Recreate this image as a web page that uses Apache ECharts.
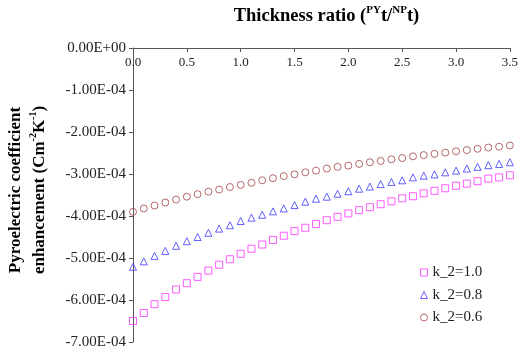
<!DOCTYPE html>
<html><head><meta charset="utf-8">
<script src="https://cdn.jsdelivr.net/npm/echarts@6/dist/echarts.min.js"></script>
<style>html,body{margin:0;padding:0;background:#fff}#c{width:521px;height:354px}</style>
</head><body><div id="c"></div>
<script>
const xValues = [0.0,0.1,0.2,0.3,0.4,0.5,0.6,0.7,0.8,0.9,1.0,1.1,1.2,1.3,1.4,1.5,1.6,1.7,1.8,1.9,2.0,2.1,2.2,2.3,2.4,2.5,2.6,2.7,2.8,2.9,3.0,3.1,3.2,3.3,3.4,3.5];
const k10 = [-6.50e-4,-6.31e-4,-6.10e-4,-5.93e-4,-5.75e-4,-5.60e-4,-5.45e-4,-5.30e-4,-5.16e-4,-5.03e-4,-4.90e-4,-4.78e-4,
  -4.68e-4,-4.57e-4,-4.47e-4,-4.36e-4,-4.28e-4,-4.19e-4,-4.10e-4,-4.02e-4,-3.94e-4,-3.86e-4,-3.79e-4,-3.72e-4,
  -3.65e-4,-3.58e-4,-3.53e-4,-3.46e-4,-3.40e-4,-3.34e-4,-3.28e-4,-3.23e-4,-3.17e-4,-3.11e-4,-3.08e-4,-3.03e-4];
const k08 = [-5.21e-4,-5.08e-4,-4.95e-4,-4.83e-4,-4.71e-4,-4.60e-4,-4.50e-4,-4.40e-4,-4.30e-4,-4.22e-4,-4.12e-4,-4.04e-4,
  -3.97e-4,-3.89e-4,-3.82e-4,-3.74e-4,-3.66e-4,-3.59e-4,-3.54e-4,-3.47e-4,-3.41e-4,-3.35e-4,-3.30e-4,-3.24e-4,
  -3.19e-4,-3.15e-4,-3.08e-4,-3.04e-4,-3.01e-4,-2.96e-4,-2.92e-4,-2.87e-4,-2.83e-4,-2.79e-4,-2.76e-4,-2.72e-4];
const k06 = [-3.90e-4,-3.82e-4,-3.75e-4,-3.68e-4,-3.61e-4,-3.54e-4,-3.48e-4,-3.42e-4,-3.37e-4,-3.31e-4,-3.26e-4,-3.21e-4,
  -3.15e-4,-3.10e-4,-3.05e-4,-3.01e-4,-2.96e-4,-2.92e-4,-2.87e-4,-2.83e-4,-2.80e-4,-2.76e-4,-2.72e-4,-2.69e-4,
  -2.65e-4,-2.62e-4,-2.58e-4,-2.55e-4,-2.52e-4,-2.49e-4,-2.46e-4,-2.43e-4,-2.40e-4,-2.37e-4,-2.35e-4,-2.32e-4];
const seriesNames = ['k_2=1.0','k_2=0.8','k_2=0.6'];
const seriesColors = ['#ff33ff','#3a3aff','#a04444'];

function pairs(ys){ return xValues.map((x,i)=>[x, ys[i]]); }
function sci(v){
  if (Math.abs(v) < 1e-12) return '0.00E+00';
  const s = v.toExponential(2);
  const parts = s.split('e');
  const sign = parts[1][0] === '-' ? '-' : '+';
  let d = parts[1].replace(/[+-]/,'');
  if (d.length < 2) d = '0' + d;
  return parts[0] + 'E' + sign + d;
}
const FONT = '"Liberation Serif", "Times New Roman", serif';
const chart = echarts.init(document.getElementById('c'), null, {renderer:'canvas'});
function mk(i, symbol, ys){
  return {name:seriesNames[i], type:'scatter', symbol:symbol, symbolSize:7, data:pairs(ys),
    itemStyle:{color:'rgba(255,255,255,0)', borderColor:seriesColors[i], borderWidth:1},
    emphasis:{disabled:true}};
}
chart.setOption({
  backgroundColor:'#fff',
  animation:false,
  grid:{left:133, right:8, top:43, bottom:12},
  xAxis:{
    type:'value', position:'top', min:0, max:3.5, interval:0.5,
    axisLine:{lineStyle:{color:'#555', width:1}},
    axisTick:{inside:true, length:4, lineStyle:{color:'#555'}},
    axisLabel:{inside:true, margin:8, color:'#222', fontFamily:FONT, fontSize:13, formatter:v=>v.toFixed(1)},
    splitLine:{show:false},
    name:'{b|Thickness ratio (}{s|PY}{b|t/}{s|NP}{b|t)}',
    nameLocation:'middle', nameGap:21,
    nameTextStyle:{padding:[0,0,0,10], rich:{
      b:{fontFamily:FONT, fontSize:18.5, fontWeight:'bold', color:'#000', lineHeight:22},
      s:{fontFamily:FONT, fontSize:11, fontWeight:'bold', color:'#000', lineHeight:22, verticalAlign:'top'}
    }}
  },
  yAxis:{
    type:'value', min:-7e-4, max:0, interval:1e-4,
    axisLine:{show:true, lineStyle:{color:'#555', width:1}},
    axisTick:{show:true, inside:false, length:4, lineStyle:{color:'#555'}},
    axisLabel:{margin:7, color:'#222', fontFamily:FONT, fontSize:15, formatter:sci},
    splitLine:{show:false}
  },
  legend:{
    orient:'vertical', left:415, top:260, itemGap:7.5, itemWidth:7, itemHeight:7,
    textStyle:{fontFamily:FONT, fontSize:15, color:'#222'},
    data:seriesNames.map((n,i)=>({name:n, itemStyle:{color:'rgba(255,255,255,0)', borderColor:seriesColors[i], borderWidth:1}}))
  },
  graphic:[{
    type:'text', x:28, y:190, rotation:Math.PI/2,
    style:{
      text:'{b|Pyroelectric coefficient}\n{b|enhancement (Cm}{s|-2}{b|K}{s|-1}{b|)}',
      align:'center', verticalAlign:'middle',
      rich:{
        b:{fontFamily:FONT, fontSize:17, fontWeight:'bold', fill:'#000', lineHeight:24},
        s:{fontFamily:FONT, fontSize:10, fontWeight:'bold', fill:'#000', lineHeight:24, verticalAlign:'top'}
      }
    }
  }],
  series:[
    mk(0, 'rect', k10),
    mk(1, 'triangle', k08),
    mk(2, 'circle', k06)
  ]
});
</script></body></html>
